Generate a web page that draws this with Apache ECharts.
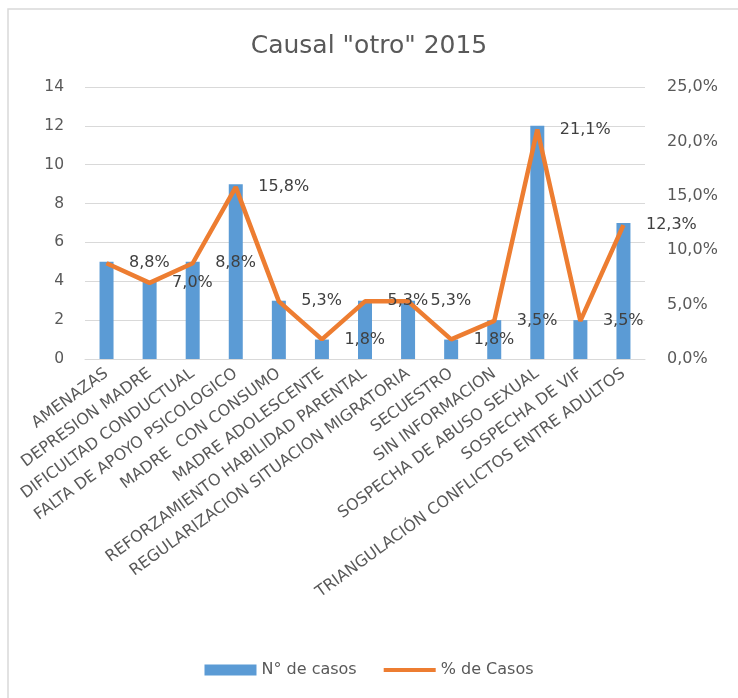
<!DOCTYPE html>
<html>
<head>
<meta charset="utf-8">
<script src="https://cdn.jsdelivr.net/npm/echarts@6/dist/echarts.min.js"></script>
<style>
html,body{margin:0;padding:0;background:#fff;}
#chart{width:738px;height:698px;}
</style>
</head>
<body>
<div id="chart"></div>
<script>
const categories = ["AMENAZAS","DEPRESION MADRE","DIFICULTAD CONDUCTUAL","FALTA DE APOYO PSICOLOGICO","MADRE  CON CONSUMO","MADRE ADOLESCENTE","REFORZAMIENTO HABILIDAD PARENTAL","REGULARIZACION SITUACION MIGRATORIA","SECUESTRO","SIN INFORMACION","SOSPECHA DE ABUSO SEXUAL","SOSPECHA DE VIF","TRIANGULACIÓN CONFLICTOS ENTRE ADULTOS"];
const casos = [5,4,5,9,3,1,3,3,1,2,12,2,7];
const porcentaje = [8.8,7.0,8.8,15.8,5.3,1.8,5.3,5.3,1.8,3.5,21.1,3.5,12.3];
const leftTicks = [0,2,4,6,8,10,12,14];
const rightTicks = [0,5,10,15,20,25];

const font = "'DejaVu Sans', 'Open Sans', sans-serif";
const chart = echarts.init(document.getElementById('chart'), null, {renderer:'canvas'});
chart.setOption({
  animation:false,
  backgroundColor:'#fff',
  graphic:[{type:'rect', shape:{x:8,y:9,width:800,height:800}, style:{fill:'none', stroke:'#d9d9d9', lineWidth:1.5}, silent:true}],
  title:{text:'Causal "otro" 2015', left:'center', top:29, textStyle:{fontFamily:font, fontSize:25, fontWeight:'normal', color:'#595959'}},
  legend:{bottom:15, left:'center', itemGap:27, itemWidth:52, itemHeight:11,
    textStyle:{fontFamily:font, fontSize:16, color:'#595959'},
    data:[{name:'N° de casos', icon:'rect'},{name:'% de Casos', icon:'path://M0,0 L52,0 L52,4 L0,4 Z'}]},
  grid:{left:85, right:93, top:87, bottom:339},
  xAxis:{type:'category', data:categories,
    axisTick:{show:false}, axisLine:{show:true, lineStyle:{color:'#d9d9d9'}},
    axisLabel:{rotate:36, interval:0, fontFamily:font, fontSize:16, color:'#595959', margin:13}},
  yAxis:[
    {type:'value', min:0, max:14, interval:2, axisLine:{show:false}, axisTick:{show:false},
     splitLine:{lineStyle:{color:'#d9d9d9'}},
     axisLabel:{fontFamily:font, fontSize:15.5, color:'#595959', margin:21}},
    {type:'value', min:0, max:25, interval:5, axisLine:{show:false}, axisTick:{show:false},
     splitLine:{show:false},
     axisLabel:{fontFamily:font, fontSize:16, color:'#595959', margin:22, formatter:v=>v.toFixed(1).replace('.',',')+'%'}}
  ],
  series:[
    {name:'N° de casos', type:'bar', data:casos, barWidth:14, itemStyle:{color:'#5B9BD5'}, yAxisIndex:0},
    {name:'% de Casos', type:'line', data:porcentaje, yAxisIndex:1, symbol:'circle', symbolSize:1, showSymbol:true,
     lineStyle:{color:'#ED7D31', width:4.5}, itemStyle:{color:'#ED7D31'},
     label:{show:true, position:'right', distance:22, fontFamily:font, fontSize:16, color:'#404040',
       formatter:p=>p.value.toFixed(1).replace('.',',')+'%'}}
  ]
});
</script>
</body>
</html>
